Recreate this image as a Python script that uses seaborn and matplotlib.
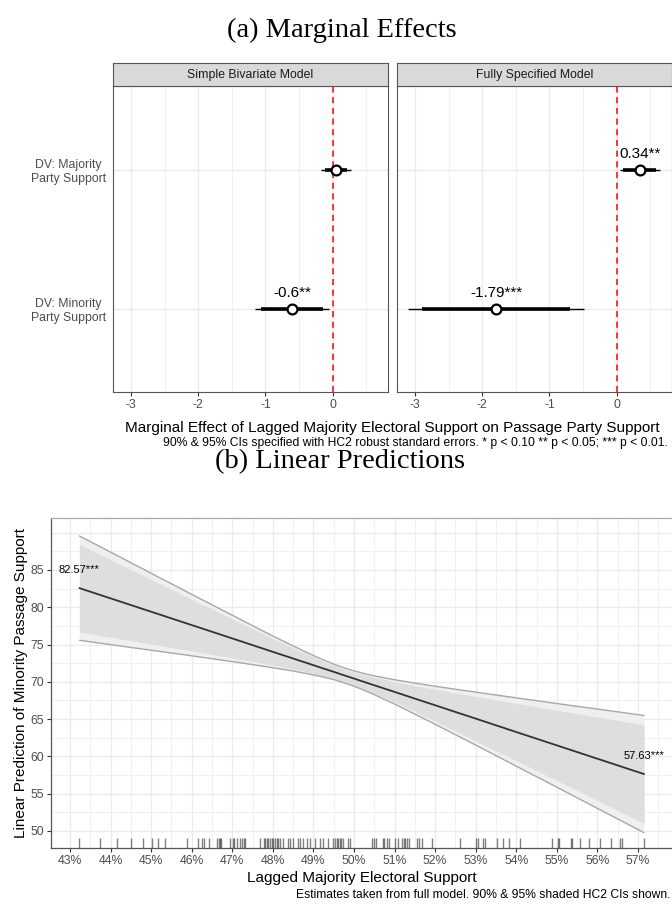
import numpy as np
import pandas as pd
import matplotlib
matplotlib.use('Agg')
import matplotlib.pyplot as plt
import seaborn as sns

sns.set_theme(style='white')
plt.rcParams['font.family'] = ['Liberation Sans', 'DejaVu Sans']
plt.rcParams['axes.unicode_minus'] = False

# ---- panel (a): marginal effects ----
models = ['Simple Bivariate Model', 'Fully Specified Model']
dv_labels = ['DV: Majority\nParty Support', 'DV: Minority\nParty Support']
est_simple = [0.05, -0.60]
lo95_simple = [-0.18, -1.15]
hi95_simple = [0.27, -0.05]
lo90_simple = [-0.11, -1.06]
hi90_simple = [0.21, -0.14]
lab_simple = ['', '-0.6**']
est_full = [0.34, -1.79]
lo95_full = [0.05, -3.10]
hi95_full = [0.64, -0.48]
lo90_full = [0.10, -2.89]
hi90_full = [0.58, -0.69]
lab_full = ['0.34**', '-1.79***']

# ---- panel (b): linear predictions ----
pred_x = [43.23, 44, 45, 46, 47, 47.5, 48, 48.5, 49, 49.25, 49.5, 49.78, 50, 50.25,
          50.5, 51, 51.5, 52, 52.5, 53, 54, 55, 56, 57.15]
pred_fit = [82.57, 81.19, 79.40, 77.61, 75.82, 74.92, 74.02, 73.13, 72.23, 71.78,
            71.34, 70.83, 70.44, 69.99, 69.54, 68.65, 67.75, 66.86, 65.96, 65.07,
            63.27, 61.48, 59.69, 57.63]
up95 = [89.57, 87.39, 84.56, 81.73, 78.93, 77.53, 76.15, 74.81, 73.53, 72.93,
        72.38, 71.83, 71.47, 71.11, 70.80, 70.28, 69.83, 69.41, 69.01, 68.62,
        67.85, 67.09, 66.35, 65.49]
lo95 = [75.57, 74.99, 74.24, 73.49, 72.71, 72.31, 71.89, 71.45, 70.93, 70.63,
        70.30, 69.83, 69.41, 68.87, 68.28, 67.02, 65.67, 64.31, 62.91, 61.52,
        58.69, 55.87, 53.03, 49.77]
up90 = [88.44, 86.39, 83.73, 81.07, 78.43, 77.11, 75.81, 74.54, 73.32, 72.74,
        72.21, 71.67, 71.30, 70.93, 70.60, 70.02, 69.49, 69.00, 68.52, 68.05,
        67.11, 66.19, 65.28, 64.22]
lo90 = [76.70, 75.99, 75.07, 74.15, 73.21, 72.73, 72.23, 71.72, 71.14, 70.82,
        70.47, 69.99, 69.58, 69.05, 68.48, 67.28, 66.01, 64.72, 63.40, 62.09,
        59.43, 56.77, 54.10, 51.04]
end_labels = ['82.57***', '57.63***']
rug_x = [43.23, 43.74, 44.15, 44.50, 44.81, 45.01, 45.16, 45.34, 45.88, 46.16, 46.25,
         46.30, 46.43, 46.63, 46.67, 46.70, 46.73, 46.94, 47.01, 47.05, 47.11, 47.19,
         47.25, 47.28, 47.31, 47.68, 47.77, 47.81, 47.85, 47.89, 47.93, 47.97, 48.01,
         48.05, 48.09, 48.13, 48.18, 48.26, 48.38, 48.42, 48.50, 48.61, 48.67, 48.73,
         48.83, 48.92, 49.04, 49.16, 49.24, 49.37, 49.49, 49.53, 49.57, 49.61, 49.65,
         49.69, 49.74, 49.86, 49.90, 50.44, 50.48, 50.54, 50.71, 50.74, 50.81, 50.87,
         51.01, 51.09, 51.17, 51.22, 51.26, 51.30, 51.36, 51.55, 51.59, 51.67, 51.91,
         52.61, 53.01, 53.05, 53.19, 53.23, 53.52, 53.68, 53.83, 54.09, 54.87, 55.04,
         55.06, 55.34, 55.38, 55.57, 55.78, 56.06, 56.33, 56.56, 56.60, 57.15]

me = pd.DataFrame({
    'model': [models[0]] * 2 + [models[1]] * 2,
    'dv': dv_labels * 2,
    'ypos': [2, 1, 2, 1],
    'est': est_simple + est_full,
    'lo95': lo95_simple + lo95_full,
    'hi95': hi95_simple + hi95_full,
    'lo90': lo90_simple + lo90_full,
    'hi90': hi90_simple + hi90_full,
    'label': lab_simple + lab_full,
})

W, H = 672, 905
fig = plt.figure(figsize=(W / 100, H / 100), dpi=100)


def fx(px):
    return px / W


def fy(py):
    return 1 - py / H


tick_col = '#4D4D4D'
grid_col = '#EBEBEB'
border_col = '#555555'

fig.text(fx(342), fy(30), '(a) Marginal Effects', family='Liberation Serif',
         fontsize=20.5, ha='center', va='center', color='black')

panel_lefts = [112.7, 396.7]
pw = 388.3 - 112.7
for i, m in enumerate(models):
    ax = fig.add_axes([fx(panel_lefts[i]), fy(392.3), pw / W, (392.3 - 86) / H])
    d = me[me['model'] == m]
    for v in [-3, -2, -1, 0]:
        ax.axvline(v, color=grid_col, lw=1.0, zorder=0)
    for v in [-2.5, -1.5, -0.5, 0.5]:
        ax.axvline(v, color=grid_col, lw=0.5, zorder=0)
    for v in [1, 2]:
        ax.axhline(v, color=grid_col, lw=1.0, zorder=0)
    ax.axvline(0, color='#FF0000', lw=1.1, ls=(0, (4, 3)), zorder=1)
    ax.hlines(d['ypos'], d['lo95'], d['hi95'], color='black', lw=1.0, zorder=2)
    ax.hlines(d['ypos'], d['lo90'], d['hi90'], color='black', lw=2.6, zorder=2)
    sns.scatterplot(data=d, x='est', y='ypos', ax=ax, s=50, color='white',
                    edgecolor='black', linewidth=1.6, zorder=3, legend=False)
    for _, r in d.iterrows():
        if r['label']:
            ax.annotate(r['label'], (r['est'], r['ypos']), xytext=(0, 11),
                        textcoords='offset points', ha='center', va='center',
                        fontsize=11, color='black')
    ax.set_xlim(-3.27, 0.826)
    ax.set_ylim(0.4, 2.6)
    ax.set_xticks([-3, -2, -1, 0])
    ax.set_xticklabels(['-3', '-2', '-1', '0'])
    ax.set_xlabel('')
    ax.set_ylabel('')
    ax.set_yticks([2, 1])
    if i == 0:
        ax.set_yticklabels(dv_labels, multialignment='center')
        ax.tick_params(axis='y', length=3, width=0.8, color='#333333',
                       labelsize=8.8, labelcolor=tick_col, pad=2)
    else:
        ax.set_yticklabels([])
        ax.tick_params(axis='y', length=0)
    ax.tick_params(axis='x', length=3, width=0.8, color='#333333', labelsize=8.8,
                   labelcolor=tick_col, pad=2, bottom=True)
    for s in ax.spines.values():
        s.set_color(border_col)
        s.set_linewidth(0.8)
    # facet strip
    sax = fig.add_axes([fx(panel_lefts[i]), fy(86), pw / W, (86 - 63.3) / H])
    sax.set_facecolor('#D9D9D9')
    sax.set_xticks([])
    sax.set_yticks([])
    for s in sax.spines.values():
        s.set_color(border_col)
        s.set_linewidth(0.8)
    sax.text(0.5, 0.5, m, transform=sax.transAxes, ha='center', va='center',
             fontsize=8.8, color='#1A1A1A')

fig.text(fx(392.5), fy(428), 'Marginal Effect of Lagged Majority Electoral Support on Passage Party Support',
         ha='center', va='center', fontsize=11, color='black')
fig.text(fx(668), fy(443), '90% & 95% CIs specified with HC2 robust standard errors. * p < 0.10 ** p < 0.05; *** p < 0.01.',
         ha='right', va='center', fontsize=8.7, color='black')

fig.text(fx(340), fy(462), '(b) Linear Predictions', family='Liberation Serif',
         fontsize=20.5, ha='center', va='center', color='black')

# ---- panel (b) ----
ax2 = fig.add_axes([fx(51), fy(847.7), (673.3 - 51) / W, (847.7 - 518) / H])
for v in np.arange(43, 58, 1):
    ax2.axvline(v, color=grid_col, lw=1.0, zorder=0)
for v in np.arange(42.5, 58, 1):
    ax2.axvline(v, color=grid_col, lw=0.5, zorder=0)
for v in np.arange(50, 91, 5):
    ax2.axhline(v, color=grid_col, lw=1.0, zorder=0)
for v in np.arange(47.5, 91, 5):
    ax2.axhline(v, color=grid_col, lw=0.5, zorder=0)

ax2.fill_between(pred_x, lo95, up95, color='#EFEFEF', lw=0, zorder=1)
ax2.fill_between(pred_x, lo90, up90, color='#DEDEDE', lw=0, zorder=1.5)
ax2.plot(pred_x, up95, color='#A8A8A8', lw=1.0, zorder=2)
ax2.plot(pred_x, lo95, color='#A8A8A8', lw=1.0, zorder=2)
sns.lineplot(x=pred_x, y=pred_fit, color='#333333', lw=1.3, ax=ax2, zorder=3)
sns.rugplot(x=rug_x, height=0.03, color='black', alpha=0.5, lw=0.8, ax=ax2)
for j, lab in zip([0, -1], end_labels):
    ax2.annotate(lab, (pred_x[j], pred_fit[j]), xytext=(0, 13),
                 textcoords='offset points', ha='center', va='center',
                 fontsize=8, color='black')

ax2.set_xlim(42.53, 57.87)
ax2.set_ylim(47.76, 91.97)
ax2.set_xticks(range(43, 58))
ax2.set_xticklabels([f'{v}%' for v in range(43, 58)])
ax2.set_yticks(range(50, 90, 5))
ax2.tick_params(axis='both', length=3, width=0.8, color='#333333', labelsize=8.8,
                labelcolor=tick_col, pad=2, bottom=True, left=True)
ax2.set_xlabel('Lagged Majority Electoral Support', fontsize=11, color='black', labelpad=3)
ax2.set_ylabel('Linear Prediction of Minority Passage Support', fontsize=11, color='black', labelpad=2)
for k in ['left', 'bottom']:
    ax2.spines[k].set_color('#555555')
    ax2.spines[k].set_linewidth(0.9)
for k in ['top', 'right']:
    ax2.spines[k].set_color('#AAAAAA')
    ax2.spines[k].set_linewidth(0.9)

fig.text(fx(671), fy(895), 'Estimates taken from full model. 90% & 95% shaded HC2 CIs shown.',
         ha='right', va='center', fontsize=8.7, color='black')

fig.savefig('out.png', dpi=100)
